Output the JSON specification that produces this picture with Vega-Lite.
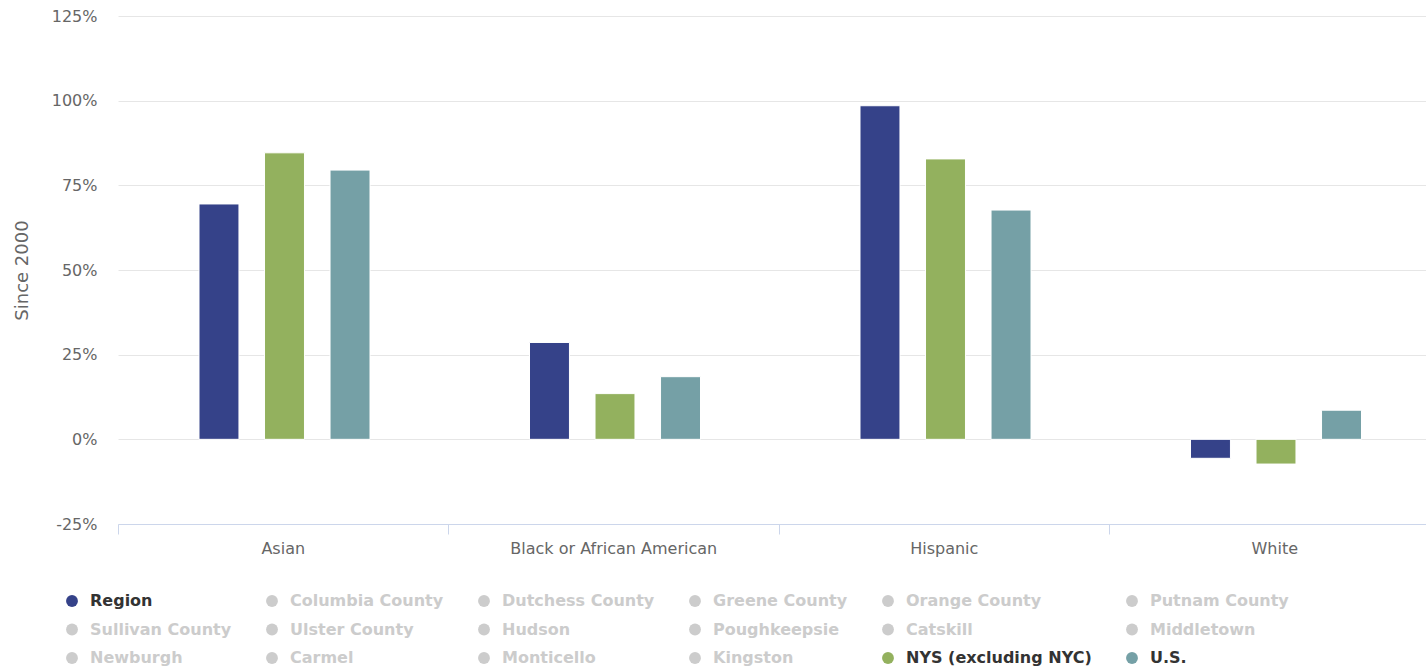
{
  "$schema": "https://vega.github.io/schema/vega-lite/v6.json",
  "autosize": "none",
  "width": 1322,
  "height": 508,
  "padding": {"left": 118, "top": 16, "right": 0, "bottom": 146},
  "background": "#ffffff",
  "config": {"view": {"stroke": null}, "font": "DejaVu Sans", "legend": {"gridAlign": "none"}},
  "data": {
    "values": [
      {"category": "Asian", "series": "Region", "value": 69.5},
      {"category": "Asian", "series": "NYS (excluding NYC)", "value": 84.6},
      {"category": "Asian", "series": "U.S.", "value": 79.5},
      {"category": "Black or African American", "series": "Region", "value": 28.6},
      {"category": "Black or African American", "series": "NYS (excluding NYC)", "value": 13.5},
      {"category": "Black or African American", "series": "U.S.", "value": 18.5},
      {"category": "Hispanic", "series": "Region", "value": 98.5},
      {"category": "Hispanic", "series": "NYS (excluding NYC)", "value": 82.8},
      {"category": "Hispanic", "series": "U.S.", "value": 67.7},
      {"category": "White", "series": "Region", "value": -5.6},
      {"category": "White", "series": "NYS (excluding NYC)", "value": -7.3},
      {"category": "White", "series": "U.S.", "value": 8.6}
    ]
  },
  "mark": {"type": "bar", "stroke": "#ffffff", "strokeWidth": 1},
  "encoding": {
    "x": {
      "field": "category",
      "type": "nominal",
      "sort": null,
      "scale": {"paddingInner": 0, "paddingOuter": 0},
      "axis": {
        "title": null,
        "labelAngle": 0,
        "bandPosition": 0,
        "tickSize": 10,
        "tickColor": "#ccd6eb",
        "domainColor": "#ccd6eb",
        "labelColor": "#666666",
        "labelFontSize": 16,
        "labelPadding": 6,
        "labelLimit": 0,
        "grid": false
      }
    },
    "xOffset": {
      "field": "series",
      "type": "nominal",
      "scale": {
        "domain": ["Region", "NYS (excluding NYC)", "U.S."],
        "range": [81, 252],
        "paddingInner": 0.39,
        "paddingOuter": 0
      }
    },
    "y": {
      "field": "value",
      "type": "quantitative",
      "scale": {"domain": [-25, 125], "nice": false, "zero": false},
      "axis": {
        "values": [-25, 0, 25, 50, 75, 100, 125],
        "labelExpr": "datum.value + '%'",
        "domain": false,
        "ticks": false,
        "gridColor": "#e6e6e6",
        "labelColor": "#666666",
        "labelFontSize": 16,
        "labelPadding": 21,
        "title": "Since 2000",
        "titleColor": "#666666",
        "titleFontSize": 18,
        "titleFontWeight": "normal",
        "titleX": -96,
        "titleY": 254,
        "titleBaseline": "middle"
      }
    },
    "color": {
      "field": "series",
      "type": "nominal",
      "scale": {
        "domain": ["Region", "Columbia County", "Dutchess County", "Greene County", "Orange County", "Putnam County", "Sullivan County", "Ulster County", "Hudson", "Poughkeepsie", "Catskill", "Middletown", "Newburgh", "Carmel", "Monticello", "Kingston", "NYS (excluding NYC)", "U.S."],
        "range": ["#354289", "#cccccc", "#cccccc", "#cccccc", "#cccccc", "#cccccc", "#cccccc", "#cccccc", "#cccccc", "#cccccc", "#cccccc", "#cccccc", "#cccccc", "#cccccc", "#cccccc", "#cccccc", "#93b15e", "#75a0a6"]
      },
      "legend": {
        "title": null,
        "orient": "none",
        "legendX": -54,
        "legendY": 577,
        "direction": "horizontal",
        "columns": 6,
        "gridAlign": "none",
        "symbolType": "circle",
        "symbolSize": 140,
        "symbolStrokeWidth": 0,
        "symbolOpacity": 1,
        "labelFont": "DejaVu Sans",
        "labelFontSize": 16,
        "labelFontWeight": "bold",
        "labelOffset": 10,
        "labelLimit": 0,
        "columnPadding": 32,
        "rowPadding": 12.5,
        "labelColor": {"expr": "indexof(['Region', 'NYS (excluding NYC)', 'U.S.'], datum.value) >= 0 ? '#333333' : '#cccccc'"}
      }
    }
  }
}
